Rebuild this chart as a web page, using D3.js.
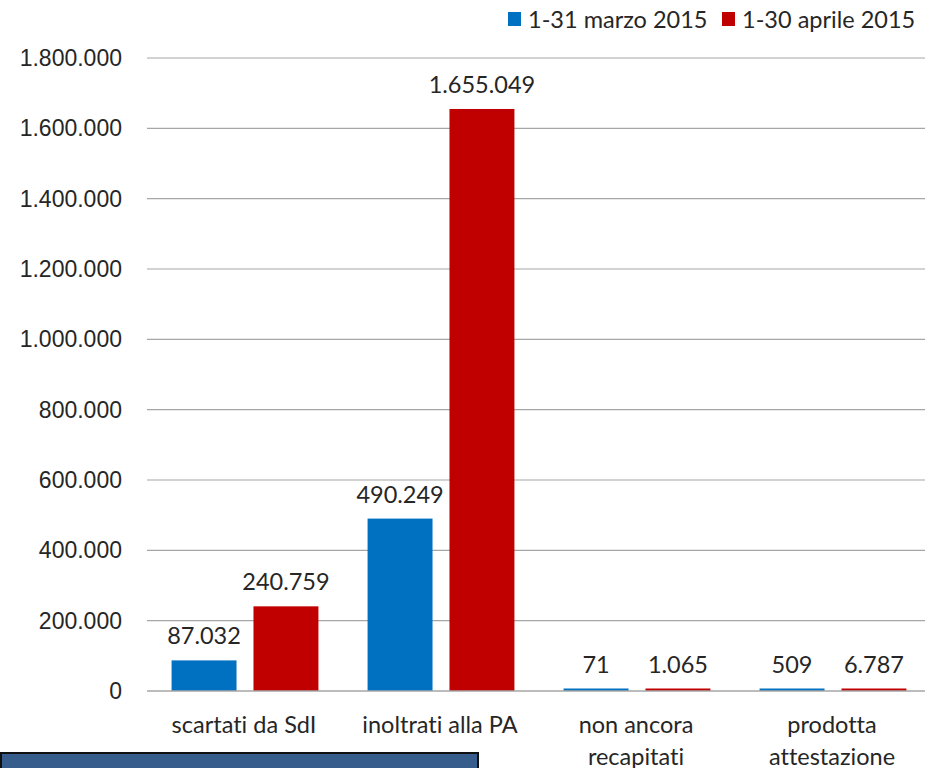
<!DOCTYPE html>
<html>
<head>
<meta charset="utf-8">
<script src="https://cdn.jsdelivr.net/npm/d3@7"></script>
<style>
  body { margin: 0; background: #fff; }
  svg { display: block; }
  text { font-variant-ligatures: none; }
</style>
</head>
<body>
<div id="chart"></div>
<script>
var categories = [["scartati da SdI"], ["inoltrati alla PA"], ["non ancora", "recapitati"], ["prodotta", "attestazione"]];
var seriesNames = ["1-31 marzo 2015", "1-30 aprile 2015"];
var marzo = [87032, 490249, 71, 509];
var aprile = [240759, 1655049, 1065, 6787];
var yTicks = [0, 200000, 400000, 600000, 800000, 1000000, 1200000, 1400000, 1600000, 1800000];
var colors = ["#0070C0", "#C00000"];

var width = 925, height = 768;
var plotLeft = 147, plotRight = 931, plotTop = 58, plotBottom = 691;
var labelFont = "Lato, sans-serif", labelSize = 23.5;

var fmt = function(v) { return d3.format(",")(v).replace(/,/g, "."); };

var svg = d3.select("#chart").append("svg")
    .attr("width", width)
    .attr("height", height);

var x = d3.scaleBand()
    .domain(d3.range(categories.length))
    .range([plotLeft, plotRight]);

var y = d3.scaleLinear()
    .domain([0, 1800000])
    .range([plotBottom, plotTop]);

// gridlines
svg.selectAll("line.grid").data(yTicks.slice(1))
  .enter().append("line")
    .attr("x1", plotLeft).attr("x2", plotRight)
    .attr("y1", function(d) { return y(d); })
    .attr("y2", function(d) { return y(d); })
    .attr("stroke", "#A6A6A6")
    .attr("stroke-width", 1.2);

svg.selectAll("text.ytick").data(yTicks)
  .enter().append("text")
    .attr("x", 122)
    .attr("y", function(d) { return y(d) + 8; })
    .attr("text-anchor", "end")
    .attr("font-family", "Liberation Sans, Arial, sans-serif")
    .attr("font-size", 23)
    .attr("fill", "#262626")
    .text(function(d) { return fmt(d); });

var series = [marzo, aprile];
var inner = d3.scaleBand()
    .domain([0, 1])
    .range([0, x.bandwidth()])
    .paddingInner(0.207)
    .paddingOuter(0.3);

series.forEach(function(vals, s) {
  var g = svg.append("g");
  g.selectAll("rect").data(vals)
    .enter().append("rect")
      .attr("x", function(d, i) { return x(i) + inner(s); })
      .attr("width", inner.bandwidth())
      .attr("y", function(d) { return Math.min(y(d), plotBottom - 2.5); })
      .attr("height", function(d) { return Math.max(plotBottom - y(d), 2.5); })
      .attr("fill", colors[s]);
  g.selectAll("text").data(vals)
    .enter().append("text")
      .attr("x", function(d, i) { return x(i) + inner(s) + inner.bandwidth() / 2; })
      .attr("y", function(d) { return Math.min(y(d), plotBottom - 2.5) - 16; })
      .attr("text-anchor", "middle")
      .attr("font-family", labelFont)
      .attr("font-size", labelSize)
      .attr("fill", "#262626")
      .text(function(d) { return fmt(d); });
});

// zero axis
svg.append("line")
    .attr("x1", plotLeft).attr("x2", plotRight)
    .attr("y1", y(0)).attr("y2", y(0))
    .attr("stroke", "#A6A6A6")
    .attr("stroke-width", 1.5);

// category labels
categories.forEach(function(lines, i) {
  var t = svg.append("text")
      .attr("text-anchor", "middle")
      .attr("font-family", labelFont)
      .attr("font-size", labelSize)
      .attr("fill", "#262626");
  lines.forEach(function(l, k) {
    t.append("tspan")
      .attr("x", x(i) + x.bandwidth() / 2 - 1)
      .attr("y", 733 + k * 32)
      .text(l);
  });
});

// legend
var legend = [{ x: 508, tx: 528 }, { x: 722, tx: 742 }];
legend.forEach(function(p, i) {
  svg.append("rect")
    .attr("x", p.x).attr("y", 12)
    .attr("width", 13).attr("height", 14)
    .attr("fill", colors[i]);
  svg.append("text")
    .attr("x", p.tx).attr("y", 28)
    .attr("font-family", labelFont)
    .attr("font-size", labelSize)
    .attr("fill", "#262626")
    .text(seriesNames[i]);
});

// dark box at the bottom
svg.append("rect")
    .attr("x", 1).attr("y", 753)
    .attr("width", 477).attr("height", 20)
    .attr("fill", "#375D8C")
    .attr("stroke", "#111")
    .attr("stroke-width", 2);
</script>
</body>
</html>
